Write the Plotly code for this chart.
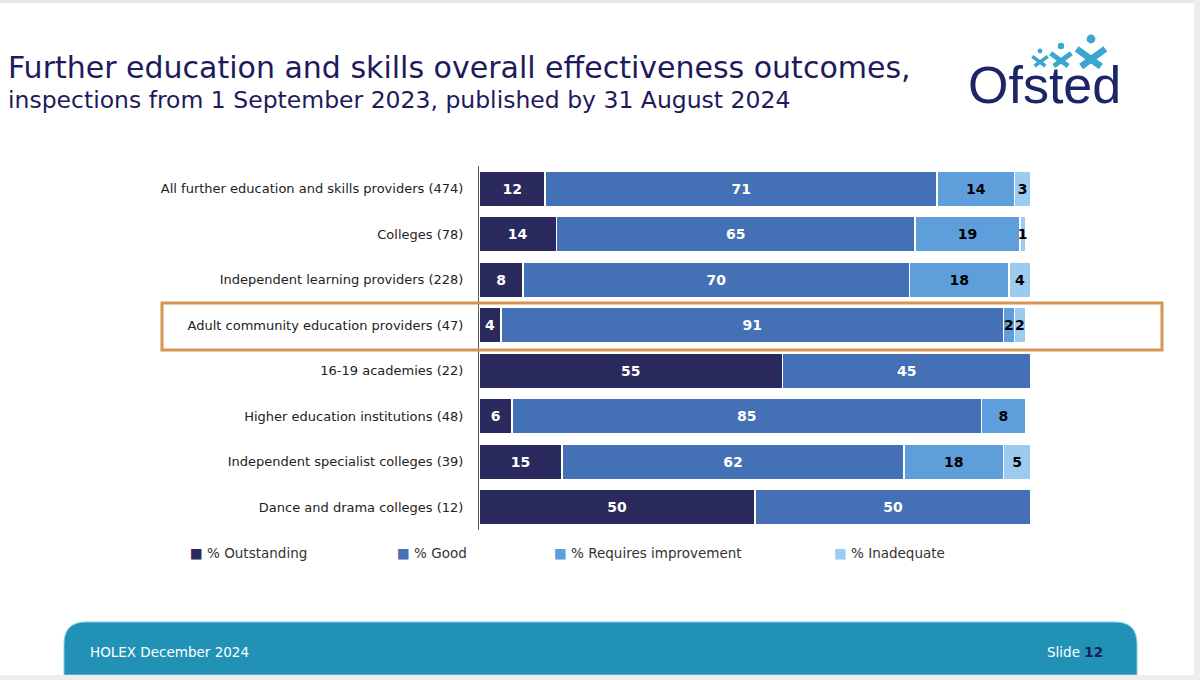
import plotly.graph_objects as go

categories = [
    "All further education and skills providers (474)",
    "Colleges (78)",
    "Independent learning providers (228)",
    "Adult community education providers (47)",
    "16-19 academies (22)",
    "Higher education institutions (48)",
    "Independent specialist colleges (39)",
    "Dance and drama colleges (12)",
]
outstanding = [12, 14, 8, 4, 55, 6, 15, 50]
good = [71, 65, 70, 91, 45, 85, 62, 50]
requires_improvement = [14, 19, 18, 2, None, 8, 18, None]
inadequate = [3, 1, 4, 2, None, None, 5, None]

series = [
    ("% Outstanding", outstanding, "#2B2A5E", "white"),
    ("% Good", good, "#4471B5", "white"),
    ("% Requires improvement", requires_improvement, "#5E9FDB", "black"),
    ("% Inadequate", inadequate, "#9CCBF1", "black"),
]

W, H = 1200, 680
L, R, T, B = 479, 1031, 166, 530  # plot area in pixels


def px(x):
    return (x - L) / (R - L)


def py(y):
    return (B - y) / (B - T)


fig = go.Figure()
for name, vals, col, tcol in series:
    fig.add_trace(go.Bar(
        y=categories, x=vals, name=name, orientation="h",
        marker=dict(color=col, line=dict(color="white", width=1.5)),
        text=["" if v is None else str(v) for v in vals],
        textposition="inside", insidetextanchor="middle", textangle=0,
        textfont=dict(family="DejaVu Sans", size=14, color=tcol, weight="bold"),
        hoverinfo="x+y+name", showlegend=False,
    ))

shapes = []
annotations = []

# highlight box round the adult community row
shapes.append(dict(type="rect", xref="paper", yref="paper",
                   x0=px(162), x1=px(1162), y0=py(350), y1=py(303),
                   line=dict(color="#D59552", width=3), layer="above"))

# titles
annotations.append(dict(text="Further education and skills overall effectiveness outcomes,",
                        xref="paper", yref="paper", x=px(6), y=py(67),
                        xanchor="left", yanchor="middle", showarrow=False,
                        font=dict(family="DejaVu Sans", size=30, color="#1E1B5C")))
annotations.append(dict(text="inspections from 1 September 2023, published by 31 August 2024",
                        xref="paper", yref="paper", x=px(6), y=py(100),
                        xanchor="left", yanchor="middle", showarrow=False,
                        font=dict(family="DejaVu Sans", size=23.5, color="#1E1B5C")))

# logo: word plus three little jumping figures
annotations.append(dict(text="Ofsted", xref="paper", yref="paper", x=px(1044), y=py(85),
                        xanchor="center", yanchor="middle", showarrow=False,
                        font=dict(family="Liberation Sans", size=52, color="#1B2568")))
for cx, hy, s in [(1040, 51, 6), (1061, 46, 8), (1091, 39, 11)]:
    shapes.append(dict(type="circle", xref="paper", yref="paper",
                       x0=px(cx - s * 0.4), x1=px(cx + s * 0.4),
                       y0=py(hy + s * 0.4), y1=py(hy - s * 0.4),
                       fillcolor="#3AA7CE", line=dict(width=0)))
    by = hy + s * 0.9
    shapes.append(dict(type="line", xref="paper", yref="paper",
                       x0=px(cx - s * 1.3), y0=py(by),
                       x1=px(cx + s * 0.9), y1=py(by + s * 1.6),
                       line=dict(color="#3AA7CE", width=s * 0.6)))
    shapes.append(dict(type="line", xref="paper", yref="paper",
                       x0=px(cx + s * 1.3), y0=py(by),
                       x1=px(cx - s * 0.9), y1=py(by + s * 1.6),
                       line=dict(color="#3AA7CE", width=s * 0.6)))

# legend as text row
for (name, vals, col, tcol), lx in zip(series, [188, 395, 552, 832]):
    annotations.append(dict(text=f"<span style='color:{col}'>■</span> {name}",
                            xref="paper", yref="paper", x=px(lx), y=py(553),
                            xanchor="left", yanchor="middle", showarrow=False,
                            font=dict(family="DejaVu Sans", size=13.5, color="#333333")))

# footer band
fx0, fx1, fy0, fy1, rad = 64, 1137, 622, 675, 22
path = (f"M {px(fx0)},{py(fy1)} L {px(fx0)},{py(fy0 + rad)} "
        f"Q {px(fx0)},{py(fy0)} {px(fx0 + rad)},{py(fy0)} "
        f"L {px(fx1 - rad)},{py(fy0)} Q {px(fx1)},{py(fy0)} {px(fx1)},{py(fy0 + rad)} "
        f"L {px(fx1)},{py(fy1)} Z")
shapes.append(dict(type="path", xref="paper", yref="paper", path=path,
                   fillcolor="#2192B6", line=dict(color="#7ED0E6", width=1), layer="below"))
annotations.append(dict(text="HOLEX December 2024", xref="paper", yref="paper",
                        x=px(88), y=py(652), xanchor="left", yanchor="middle", showarrow=False,
                        font=dict(family="DejaVu Sans", size=13.5, color="white")))
annotations.append(dict(text="Slide <b><span style='color:#1E1B5C'>12</span></b>",
                        xref="paper", yref="paper", x=px(1105), y=py(652),
                        xanchor="right", yanchor="middle", showarrow=False,
                        font=dict(family="DejaVu Sans", size=13.5, color="white")))

# window borders
shapes.append(dict(type="rect", xref="paper", yref="paper", x0=px(0), x1=px(1200),
                   y0=py(3), y1=py(0), fillcolor="#E6E6E6", line=dict(width=0)))
shapes.append(dict(type="rect", xref="paper", yref="paper", x0=px(1194), x1=px(1200),
                   y0=py(680), y1=py(0), fillcolor="#EDEDED", line=dict(width=0)))
shapes.append(dict(type="rect", xref="paper", yref="paper", x0=px(0), x1=px(1200),
                   y0=py(680), y1=py(675), fillcolor="#EDEDED", line=dict(width=0)))

fig.update_layout(
    width=W, height=H, barmode="stack", bargap=0.21,
    margin=dict(l=L, r=W - R, t=T, b=H - B, pad=0),
    paper_bgcolor="white", plot_bgcolor="white",
    font=dict(family="DejaVu Sans", size=13, color="#222222"),
    uniformtext=dict(minsize=14, mode="show"),
    xaxis=dict(range=[0, 100], visible=False, fixedrange=True),
    yaxis=dict(autorange="reversed", showline=True, linecolor="#595959", linewidth=1,
               ticks="", showgrid=False, ticklabelstandoff=12,
               tickfont=dict(family="DejaVu Sans", size=13, color="#222222")),
    shapes=shapes, annotations=annotations,
)

# page body has an 8px margin by default; drop it so the figure fills the window
fig.write_html("out.html", config={"displayModeBar": False},
               post_script="document.body.style.margin='0';document.body.style.overflow='hidden';")
